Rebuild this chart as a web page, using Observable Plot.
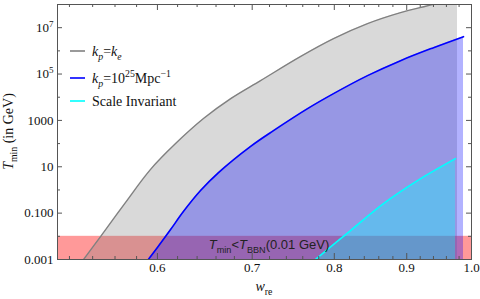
<!DOCTYPE html>
<html><head><meta charset="utf-8">
<script src="https://cdn.jsdelivr.net/npm/d3@7"></script>
<script src="https://cdn.jsdelivr.net/npm/@observablehq/plot@0.6"></script>
<style>body{margin:0;background:#fff}</style>
</head><body>
<script>
// ---- data ----
const grayW = [0.5321, 0.547, 0.5696, 0.5932, 0.618, 0.6467, 0.676, 0.7096, 0.757, 0.799, 0.8444, 0.891, 0.9386, 0.9775];
const grayT = [0.001, 0.0098, 0.286, 7.57, 100, 1200, 8710, 52000, 562000, 3.36e6, 1.49e7, 4.44e7, 1.0e8, 2.0e8];

const blueW = [0.5912, 0.600, 0.613, 0.6259, 0.6436, 0.6627, 0.6979, 0.7247, 0.766, 0.799, 0.8444, 0.891, 0.9401, 0.9871];
const blueT = [0.001, 0.00329, 0.0196, 0.117, 0.942, 5.62, 74.3, 363, 3230, 14300, 85300, 378000, 1.37e6, 4.09e6];

const cyanW = [0.7758, 0.8214, 0.8667, 0.916, 0.9743];
const cyanT = [0.001, 0.0178, 0.259, 2.54, 22.5];

const bbnBand = [{w1: 0.51, w2: 1.0, t1: 0.001, t2: 0.01}];
const bbnLabel = {w: 0.72, T: 0.0027};

const xDomain = [0.51, 1.0];
const yDomain = [1e-3, 1e8];

const xMajor = [0.6, 0.7, 0.8, 0.9, 1.0];
const xMajorLabels = ["0.6", "0.7", "0.8", "0.9", "1.0"];
const xMinor = [0.52, 0.54, 0.56, 0.58, 0.62, 0.64, 0.66, 0.68, 0.72, 0.74, 0.76, 0.78, 0.82, 0.84, 0.86, 0.88, 0.92, 0.94, 0.96, 0.98];

const yMajor = [1e-3, 1e-1, 10, 1e3, 1e5, 1e7];
const yMajorLabels = ["0.001", "0.100", "10", "1000", "10^5", "10^7"];
const yMinor = [1e-2, 1, 100, 1e4, 1e6];

const legendColors = ["#808080", "#0000ff", "#00ffff"];
const legendEntries = [
  [{t:"k",it:1},{t:"p",it:1,sub:1},{t:"="},{t:"k",it:1},{t:"e",it:1,sub:1}],
  [{t:"k",it:1},{t:"p",it:1,sub:1},{t:"=10"},{t:"25",sup:1},{t:"Mpc"},{t:"\u22121",sup:1}],
  [{t:"Scale Invariant"}]
];

// ---- build tables ----
const gray = grayW.map((w, i) => ({w, T: grayT[i]}));
const blue = blueW.map((w, i) => ({w, T: blueT[i]}));
const cyan = cyanW.map((w, i) => ({w, T: cyanT[i]}));

const W = 480, H = 299, mL = 57, mR = 9, mT = 4, mB = 40;
const fw = W - mL - mR, fh = H - mT - mB;
const axisCol = "#555";
const floor = () => yDomain[0];
const curve = "catmull-rom";

const plot = Plot.plot({
  width: W, height: H,
  marginLeft: mL, marginRight: mR, marginTop: mT, marginBottom: mB,
  x: {type: "log", domain: xDomain, label: null},
  y: {type: "log", domain: yDomain, label: null},
  style: {fontFamily: "Liberation Serif", fontSize: "13px", background: "white", color: "#111"},
  marks: [
    Plot.rect(bbnBand, {x1: "w1", x2: "w2", y1: "t1", y2: "t2", fill: "red", fillOpacity: 0.4}),
    Plot.areaY(gray, {x: "w", y1: floor, y2: "T", fill: "#808080", fillOpacity: 0.3, curve, clip: true}),
    Plot.areaY(blue, {x: "w", y1: floor, y2: "T", fill: "blue", fillOpacity: 0.3, curve, clip: true}),
    Plot.areaY(cyan, {x: "w", y1: floor, y2: "T", fill: "cyan", fillOpacity: 0.33, curve, clip: true}),
    Plot.line(gray, {x: "w", y: "T", stroke: "#808080", strokeWidth: 1.3, curve, clip: true}),
    Plot.line(blue, {x: "w", y: "T", stroke: "#0000ff", strokeWidth: 1.6, curve, clip: true}),
    Plot.line(cyan, {x: "w", y: "T", stroke: "#00ffff", strokeWidth: 1.6, curve, clip: true}),
    // inward ticks
    Plot.tickX(xMajor, {x: d => d, insetTop: fh - 6, stroke: axisCol}),
    Plot.tickX(xMajor, {x: d => d, insetBottom: fh - 6, stroke: axisCol}),
    Plot.tickX(xMinor, {x: d => d, insetTop: fh - 3, stroke: axisCol}),
    Plot.tickX(xMinor, {x: d => d, insetBottom: fh - 3, stroke: axisCol}),
    Plot.tickY(yMajor, {y: d => d, insetRight: fw - 5, stroke: axisCol}),
    Plot.tickY(yMajor, {y: d => d, insetLeft: fw - 5, stroke: axisCol}),
    Plot.tickY(yMinor, {y: d => d, insetRight: fw - 3, stroke: axisCol}),
    Plot.tickY(yMinor, {y: d => d, insetLeft: fw - 3, stroke: axisCol}),
    Plot.frame({stroke: axisCol}),
    Plot.axisX(xMajor, {tickSize: 0, tickPadding: 3, fontSize: 13, label: null,
      tickFormat: d => xMajorLabels[xMajor.indexOf(d)]}),
    Plot.axisY(yMajor, {tickSize: 0, tickPadding: 4, fontSize: 13, label: null,
      tickFormat: d => yMajorLabels[yMajor.indexOf(d)]})
  ]
});
document.body.appendChild(plot);

// ---- rich text helper ----
function rich(sel, parts, size) {
  sel.text(null);
  let cur = 0;
  parts.forEach(p => {
    const ts = sel.append("tspan").text(p.t);
    const target = p.sub ? size * 0.3 : p.sup ? -size * 0.4 : 0;
    if (p.sub || p.sup) ts.attr("font-size", size * 0.7);
    if (p.it) ts.attr("font-style", "italic");
    if (target !== cur) { ts.attr("dy", target - cur); cur = target; }
  });
}

const svg = d3.select(plot);
const sx = plot.scale("x"), sy = plot.scale("y");

// superscripts in y tick labels
svg.selectAll("text").each(function() {
  const s = this.textContent;
  if (/^10\^\d+$/.test(s)) {
    const [b, e] = s.split("^");
    rich(d3.select(this), [{t: b}, {t: e, sup: 1}], 13);
  }
});

// legend
const lg = svg.append("g").attr("font-family", "Liberation Serif").attr("font-size", 14)
  .attr("fill", "#111").attr("text-anchor", "start");
const legendY = [51, 78, 101];
legendEntries.forEach((parts, i) => {
  lg.append("line").attr("x1", 70).attr("x2", 85).attr("y1", legendY[i]).attr("y2", legendY[i])
    .attr("stroke", legendColors[i]).attr("stroke-width", 1.6);
  const t = lg.append("text").attr("x", 92).attr("y", legendY[i] + 4.7);
  rich(t, parts, 14);
});

// BBN label
const bt = svg.append("text").attr("x", sx.apply(bbnLabel.w)).attr("y", sy.apply(bbnLabel.T))
  .attr("text-anchor", "middle").attr("font-family", "Liberation Sans").attr("font-size", 13).attr("fill", "#222");
rich(bt, [{t:"T",it:1},{t:"min",sub:1},{t:"<"},{t:"T",it:1},{t:"BBN",sub:1},{t:"(0.01 GeV)"}], 13);

// axis labels
const xl = svg.append("text").attr("x", mL + fw / 2).attr("y", 291).attr("text-anchor", "middle")
  .attr("font-family", "Liberation Serif").attr("font-size", 14).attr("fill", "#111");
rich(xl, [{t:"w",it:1},{t:"re",sub:1}], 14);
const yl = svg.append("text").attr("transform", `translate(13,${mT + fh / 2}) rotate(-90)`).attr("text-anchor", "middle")
  .attr("font-family", "Liberation Serif").attr("font-size", 14).attr("fill", "#111");
rich(yl, [{t:"T",it:1},{t:"min",sub:1},{t:" (in GeV)"}], 14);
</script>
</body></html>
